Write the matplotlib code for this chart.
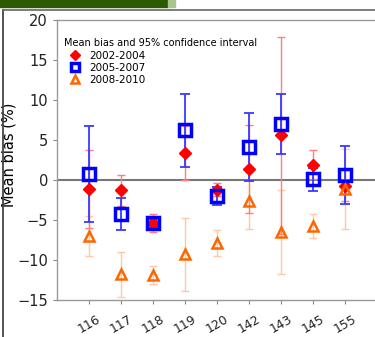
import matplotlib.pyplot as plt
from matplotlib.patches import Rectangle
from matplotlib.lines import Line2D
import numpy as np

sites = ['116', '117', '118', '119', '120', '142', '143', '145', '155']

bias_0204 = [-1.1, -1.3, -5.4, 3.4, -1.2, 1.4, 5.6, 1.9, -0.7]
ci_0204 = [4.9, 1.9, 1.1, 3.4, 0.8, 5.5, 12.3, 1.8, 1.9]

bias_0507 = [0.8, -4.3, -5.4, 6.2, -2.0, 4.1, 7.0, 0.1, 0.6]
ci_0507 = [6.0, 2.0, 0.5, 4.6, 1.1, 4.25, 3.7, 1.45, 3.6]

bias_0810 = [-7.0, -11.8, -11.9, -9.3, -7.9, -2.6, -6.5, -5.8, -1.1]
ci_0810 = [2.5, 2.8, 1.1, 4.6, 1.6, 3.5, 5.3, 1.5, 5.0]

x = np.arange(len(sites))

fig = plt.figure(figsize=(3.75, 3.37), dpi=100)
ax = fig.add_axes([57/375, 1 - 300/337, 320/375, 280/337])

# frame + green header strip
fig.patches.append(Rectangle((0, 1 - 7/337), 168/375, 7/337, transform=fig.transFigure,
                             color='#2d5a00', zorder=0))
fig.patches.append(Rectangle((168/375, 1 - 7/337), 7/375, 7/337, transform=fig.transFigure,
                             color='#a9c48c', zorder=0))
fig.lines.append(Line2D([2.5/375, 2.5/375], [0, 1 - 10/337], transform=fig.transFigure,
                        color='#444444', lw=1.3))
fig.lines.append(Line2D([2.5/375, 1], [1 - 10/337, 1 - 10/337], transform=fig.transFigure,
                        color='#666666', lw=1.2))

ax.axhline(0, color='#777777', lw=1.5, zorder=1)

ax.errorbar(x, bias_0810, yerr=ci_0810, fmt='none', ecolor='#ffc8a8', elinewidth=1,
            capsize=3, capthick=1, zorder=2)
ax.errorbar(x, bias_0204, yerr=ci_0204, fmt='none', ecolor='#ff7f7f', elinewidth=1,
            capsize=3, capthick=1, zorder=2)
ax.errorbar(x, bias_0507, yerr=ci_0507, fmt='none', ecolor='#3a3aff', elinewidth=1.3,
            capsize=3.5, capthick=1.3, zorder=3)

ax.plot(x, bias_0204, 'D', color='#ff0000', ms=6.5, ls='none', zorder=4, label='2002-2004')
ax.plot(x, bias_0507, 's', mec='#0000ff', mfc='none', mew=2.5, ms=8.5, ls='none', zorder=5,
        label='2005-2007')
ax.plot(x, bias_0810, '^', mec='#ff6600', mfc='none', mew=1.8, ms=7, ls='none', zorder=5,
        label='2008-2010')

ax.set_xlim(-1, 9)
ax.set_ylim(-15, 20)
ax.set_yticks(range(-15, 21, 5))
ax.set_xticks(x)
ax.set_xticklabels(sites, rotation=30, fontsize=9, color='#222222')
ax.tick_params(axis='y', labelsize=10.5, direction='out', length=3, color='#888888', labelcolor='#222222')
ax.tick_params(axis='x', direction='out', length=3, color='#888888', pad=6)
ax.set_ylabel('Mean bias (%)', fontsize=10.5)
ax.yaxis.set_label_coords(-0.125, 0.52)

for s in ['left', 'bottom', 'top']:
    ax.spines[s].set_color('#999999')
    ax.spines[s].set_linewidth(1)
ax.spines['right'].set_visible(False)

leg = ax.legend(title='Mean bias and 95% confidence interval', loc='upper left',
                frameon=False, fontsize=7.5, title_fontsize=7, borderaxespad=0.3,
                handletextpad=0.4, labelspacing=0.2, markerscale=0.75,
                bbox_to_anchor=(0.0, 0.96))
leg._legend_box.align = 'left'

fig.savefig('out.png', dpi=100)
